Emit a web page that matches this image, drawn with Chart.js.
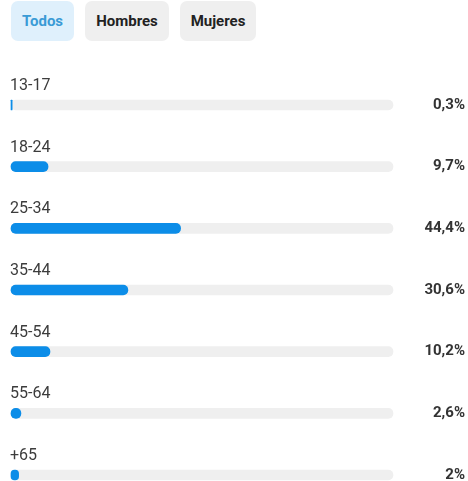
<!DOCTYPE html>
<html>
<head>
<meta charset="utf-8">
<script src="https://cdn.jsdelivr.net/npm/chart.js@4/dist/chart.umd.min.js"></script>
<style>
  html, body { margin: 0; padding: 0; background: #fff; }
  body { width: 468px; height: 481px; position: relative; overflow: hidden; font-family: Roboto, sans-serif; }
  .tabs { position: absolute; top: 1px; left: 11px; display: flex; }
  .tab { height: 40px; line-height: 40px; border-radius: 7px; background: #efefef; color: #222;
         font-weight: bold; font-size: 15px; text-align: center; margin-right: 11px; }
  .tab.active { background: #dff0fc; color: #3a9bd6; }
  canvas { position: absolute; top: 0; left: 0; }
</style>
</head>
<body>
<div class="tabs">
  <div class="tab active" style="width:63px">Todos</div>
  <div class="tab" style="width:84px">Hombres</div>
  <div class="tab" style="width:76px">Mujeres</div>
</div>
<canvas id="myChart" width="468" height="481"></canvas>
<script>
// age groups and share of audience (%)
var categories = ['13-17', '18-24', '25-34', '35-44', '45-54', '55-64', '+65'];
var values = [0.3, 9.7, 44.4, 30.6, 10.2, 2.6, 2];
var valueLabels = ['0,3%', '9,7%', '44,4%', '30,6%', '10,2%', '2,6%', '2%'];
var trackMax = 100;

var track = categories.map(function () { return trackMax; });

// draws the age label above each bar and the percentage at the right
var rowLabels = {
    id: 'rowLabels',
    afterDatasetsDraw: function (chart) {
        var ctx = chart.ctx;
        var meta = chart.getDatasetMeta(0);
        var area = chart.chartArea;
        ctx.save();
        for (var i = 0; i < meta.data.length; i++) {
            var bar = meta.data[i];
            ctx.font = '16px Roboto';
            ctx.fillStyle = '#3c3c3c';
            ctx.textAlign = 'left';
            ctx.textBaseline = 'alphabetic';
            ctx.fillText(categories[i], area.left - 1, bar.y - 15);

            ctx.font = 'bold 15px Roboto';
            ctx.fillStyle = '#333';
            ctx.textAlign = 'right';
            ctx.textBaseline = 'middle';
            ctx.fillText(valueLabels[i], chart.width - 3, bar.y);
        }
        ctx.restore();
    }
};

function createChart() {
    var ctx = document.getElementById('myChart').getContext('2d');
    new Chart(ctx, {
        type: 'bar',
        data: {
            labels: categories,
            datasets: [
                {
                    data: values,
                    backgroundColor: '#0c8de8',
                    barThickness: 10,
                    borderRadius: 5,
                    borderSkipped: false,
                    grouped: false,
                    clip: false,
                    order: 0
                },
                {
                    data: track,
                    backgroundColor: '#efefef',
                    barThickness: 10,
                    borderRadius: 5,
                    borderSkipped: false,
                    grouped: false,
                    clip: false,
                    order: 1
                }
            ]
        },
        options: {
            indexAxis: 'y',
            responsive: false,
            animation: false,
            devicePixelRatio: 1,
            layout: { padding: { left: 11, right: 75, top: 105, bottom: 6 } },
            plugins: {
                legend: { display: false },
                tooltip: { enabled: false }
            },
            scales: {
                x: { display: false, min: 0, max: trackMax },
                y: { display: false, offset: false }
            }
        },
        plugins: [rowLabels]
    });
}
createChart();
</script>
</body>
</html>
